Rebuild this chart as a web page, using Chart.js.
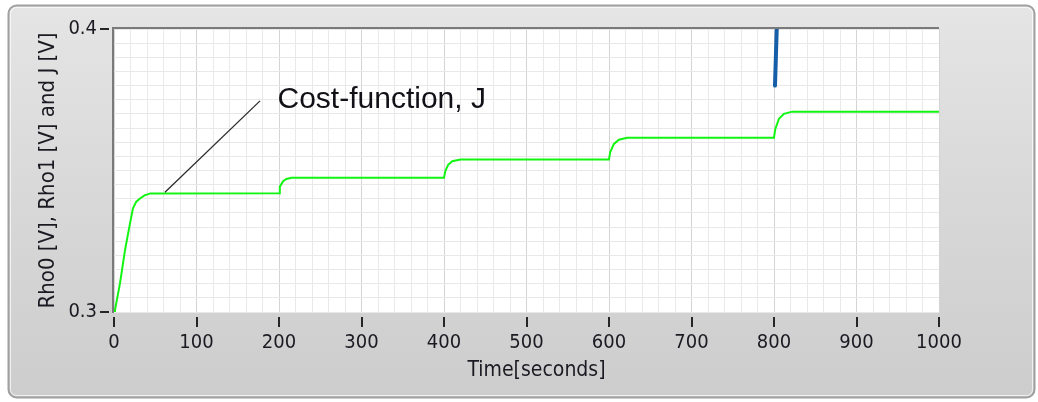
<!DOCTYPE html>
<html>
<head>
<meta charset="utf-8">
<script src="https://cdn.jsdelivr.net/npm/chart.js@4/dist/chart.umd.min.js"></script>
<style>
  html, body { margin: 0; padding: 0; background: #ffffff; overflow: hidden; }
  #wrap { width: 1038px; height: 402px; }
</style>
</head>
<body>
<div id="wrap"><canvas id="c" width="1038" height="402"></canvas></div>
<script>
// Cost-function J over time (seconds, volts)
const jTime   = [0, 1.2, 3, 7.3, 13.3, 19.4, 23, 27, 31.5, 37, 44,
                 200, 201, 205, 209, 215,
                 400, 401.5, 405, 410, 420,
                 600, 601.5, 606, 612, 622,
                 800, 801.5, 806, 812, 822, 1000];
const jValues = [0.300, 0.3007, 0.3035, 0.3102, 0.3218, 0.3313, 0.3366, 0.3390, 0.3401, 0.3412, 0.3419,
                 0.3420, 0.3443, 0.3462, 0.3470, 0.3474,
                 0.3474, 0.3497, 0.3520, 0.3533, 0.3539,
                 0.3539, 0.3565, 0.3594, 0.3609, 0.3616,
                 0.3616, 0.3646, 0.3683, 0.3700, 0.3708, 0.3708];

// Rho trace (only a short piece falls inside the visible range)
const rhoTime   = [801.2, 804.6];
const rhoValues = [0.380, 0.412];

// Axis ticks and titles
const xTickLabels = [0, 100, 200, 300, 400, 500, 600, 700, 800, 900, 1000];
const yTickLabels = [0.3, 0.4];
const xTitle = 'Time[seconds]';
const yTitle = 'Rho0 [V], Rho1 [V] and J [V]';

// Callout pointing at the J trace
const calloutText = 'Cost-function, J';
const calloutFrom = [61.8, 0.3423];
const calloutTo   = [177, 0.3746];

const tickFont = "'DejaVu Sans Condensed', 'DejaVu Sans', sans-serif";
const textColor = '#1a1a22';

const near = (a, b, eps) => Math.abs(a - b) < eps;

// Grey bevelled panel, white plotting field, sunken frame, tick marks, x title
const panelPlugin = {
  id: 'panel',
  beforeDraw(chart) {
    const { ctx, chartArea: a, width, height } = chart;
    ctx.save();
    ctx.fillStyle = '#ffffff';
    ctx.fillRect(0, 0, width, height);
    const x0 = 8.5, y0 = 5.5, x1 = width - 3.5, y1 = height - 4.5, r = 8;
    const g = ctx.createLinearGradient(0, y0, 0, y1);
    g.addColorStop(0, '#e5e5e5');
    g.addColorStop(0.5, '#d8d8d8');
    g.addColorStop(1, '#cdcdcd');
    ctx.beginPath();
    ctx.roundRect(x0, y0, x1 - x0, y1 - y0, r);
    ctx.fillStyle = g;
    ctx.fill();
    ctx.lineWidth = 2;
    ctx.strokeStyle = '#a0a0a0';
    ctx.stroke();
    ctx.beginPath();
    ctx.roundRect(x0 + 2, y0 + 2, x1 - x0 - 4, y1 - y0 - 4, r - 2);
    ctx.lineWidth = 1;
    ctx.strokeStyle = 'rgba(255,255,255,0.7)';
    ctx.stroke();
    ctx.fillStyle = '#ffffff';
    ctx.fillRect(a.left, a.top, a.right - a.left, a.bottom - a.top);
    ctx.restore();
  },
  beforeDatasetsDraw(chart) {
    const { ctx, chartArea: a } = chart;
    ctx.save();
    ctx.strokeStyle = '#7a7a7a';
    ctx.lineWidth = 2;
    ctx.beginPath();
    ctx.moveTo(a.left - 1, a.bottom + 1);
    ctx.lineTo(a.left - 1, a.top - 1);
    ctx.lineTo(a.right, a.top - 1);
    ctx.stroke();
    ctx.restore();
  },
  afterDraw(chart) {
    const { ctx, chartArea: a, scales: { x, y } } = chart;
    ctx.save();
    ctx.strokeStyle = '#262626';
    ctx.lineWidth = 2;
    ctx.beginPath();
    yTickLabels.forEach(v => {
      const py = Math.round(y.getPixelForValue(v));
      ctx.moveTo(a.left - 14, py);
      ctx.lineTo(a.left - 5, py);
    });
    xTickLabels.forEach(v => {
      const px = Math.round(x.getPixelForValue(v));
      ctx.moveTo(px, a.bottom + 5);
      ctx.lineTo(px, a.bottom + 15);
    });
    ctx.stroke();
    ctx.fillStyle = textColor;
    ctx.font = "21px " + tickFont;
    ctx.textAlign = 'center';
    ctx.textBaseline = 'middle';
    ctx.fillText(xTitle, (a.left + a.right) / 2 + 10, a.bottom + 59);
    ctx.restore();
  }
};

// Leader line and caption for the J trace
const calloutPlugin = {
  id: 'callout',
  afterDatasetsDraw(chart) {
    const { ctx, scales: { x, y } } = chart;
    const fx = x.getPixelForValue(calloutFrom[0]), fy = y.getPixelForValue(calloutFrom[1]);
    const tx = x.getPixelForValue(calloutTo[0]),   ty = y.getPixelForValue(calloutTo[1]);
    ctx.save();
    ctx.strokeStyle = '#2b2b2b';
    ctx.lineWidth = 1.3;
    ctx.beginPath();
    ctx.moveTo(fx, fy);
    ctx.lineTo(tx, ty);
    ctx.stroke();
    ctx.fillStyle = '#111118';
    ctx.font = "30px 'Liberation Sans', Arial, sans-serif";
    ctx.textBaseline = 'alphabetic';
    ctx.textAlign = 'left';
    ctx.fillText(calloutText, tx + 17.5, ty + 7.5);
    ctx.restore();
  }
};

const toPoints = (xs, ys) => xs.map((t, i) => ({ x: t, y: ys[i] }));

new Chart(document.getElementById('c'), {
  type: 'line',
  data: {
    datasets: [
      {
        label: 'J',
        data: toPoints(jTime, jValues),
        borderColor: '#12f512',
        borderWidth: 2,
        pointRadius: 0,
        tension: 0,
        fill: false
      },
      {
        label: 'Rho',
        data: toPoints(rhoTime, rhoValues),
        borderColor: '#165fa8',
        borderWidth: 4,
        borderCapStyle: 'round',
        pointRadius: 0,
        tension: 0,
        fill: false
      }
    ]
  },
  options: {
    responsive: false,
    animation: false,
    devicePixelRatio: 1,
    layout: { padding: { left: 8, right: 99, top: 28, bottom: 0 } },
    plugins: {
      legend: { display: false },
      tooltip: { enabled: false }
    },
    scales: {
      x: {
        type: 'linear',
        min: 0,
        max: 1000,
        border: { display: false },
        grid: {
          drawTicks: false,
          lineWidth: 1,
          color: c => (c.tick && near(c.tick.value % 100, 0, 1e-6)) ? '#d4d4d4' : '#e9e9e9'
        },
        ticks: {
          stepSize: 20,
          autoSkip: false,
          maxRotation: 0,
          minRotation: 0,
          padding: 19,
          color: textColor,
          font: { family: tickFont, size: 20 },
          callback: v => xTickLabels.some(t => near(t, v, 1e-6)) ? String(Math.round(v)) : ''
        },
        title: { display: false },
        afterFit: s => { s.height = 90; }
      },
      y: {
        type: 'linear',
        min: 0.3,
        max: 0.4,
        border: { display: false },
        grid: {
          drawTicks: false,
          lineWidth: 1,
          color: '#e8e8e8'
        },
        ticks: {
          stepSize: 0.005,
          autoSkip: false,
          padding: 17,
          color: textColor,
          font: { family: tickFont, size: 20 },
          callback: v => {
            const hit = yTickLabels.find(t => near(t, v, 1e-9));
            return hit !== undefined ? hit.toFixed(1) : '';
          }
        },
        title: {
          display: true,
          text: yTitle,
          color: textColor,
          font: { family: tickFont, size: 22 },
          padding: { top: 27, bottom: 0 }
        },
        afterFit: s => { s.width = 106; }
      }
    }
  },
  plugins: [panelPlugin, calloutPlugin]
});
</script>
</body>
</html>
